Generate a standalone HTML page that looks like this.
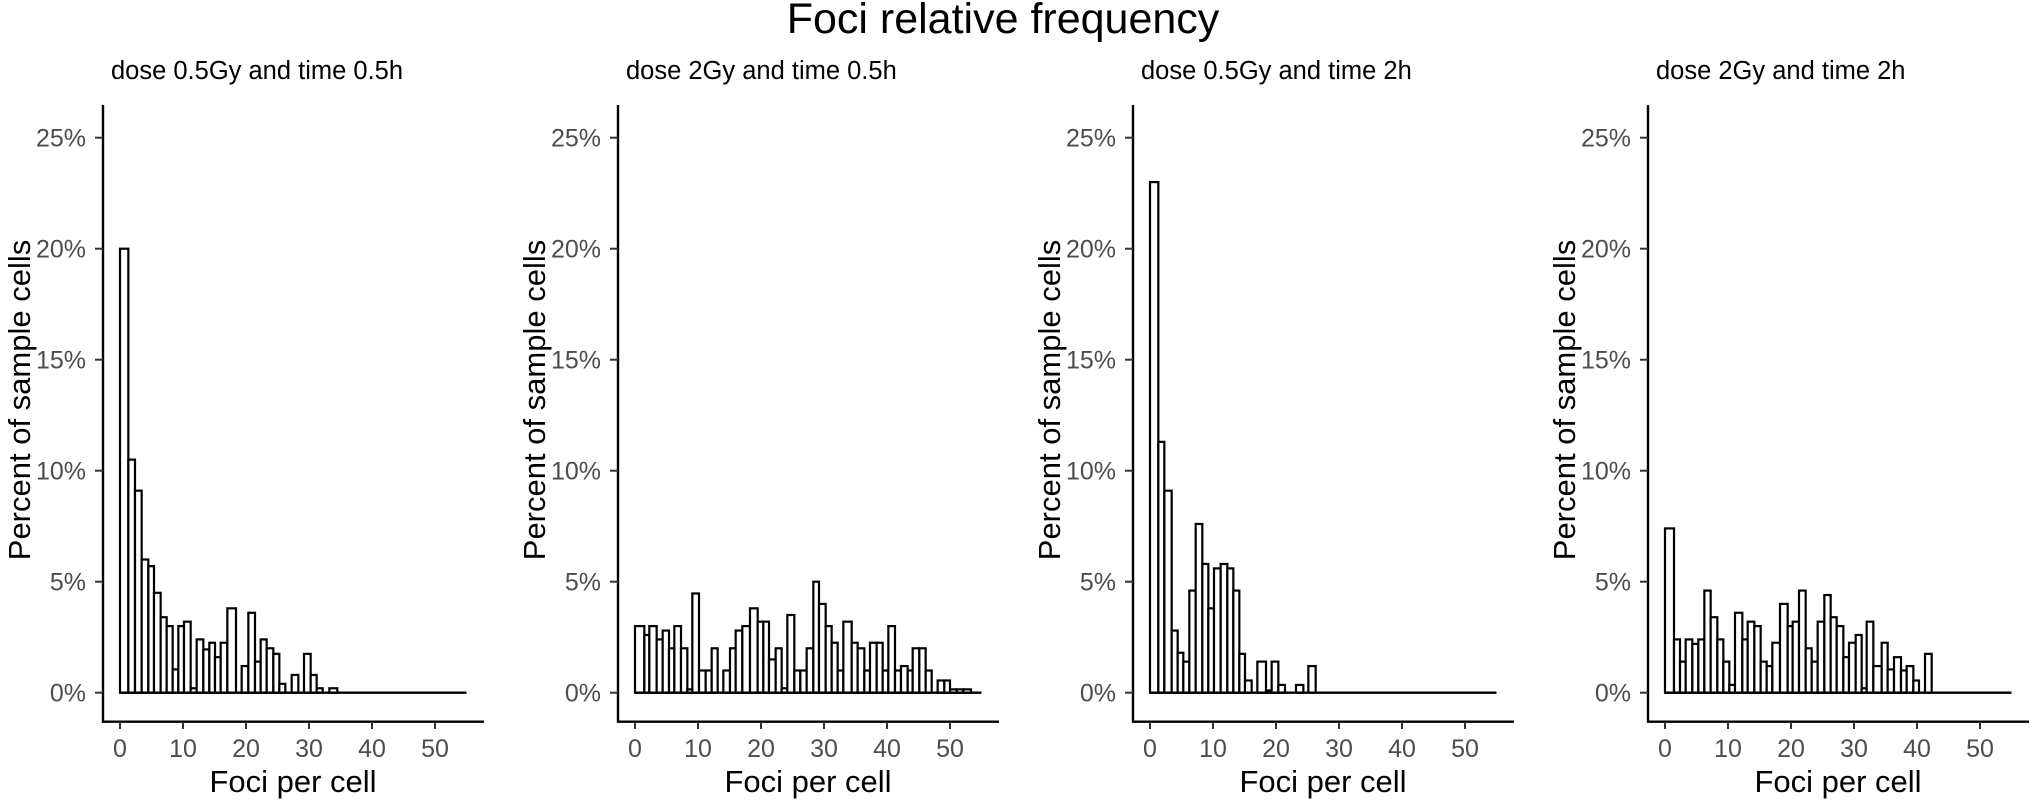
<!DOCTYPE html>
<html><head><meta charset="utf-8">
<style>
html,body{margin:0;padding:0;background:#fff;}
svg{display:block;}
text{font-family:"Liberation Sans",Arial,sans-serif;}
</style></head>
<body>
<svg id="s" width="2030" height="801" viewBox="0 0 2030 801" xmlns="http://www.w3.org/2000/svg">
<rect width="2030" height="801" fill="#fff"/>
<text x="1003" y="33" font-size="43" text-anchor="middle" fill="#000">Foci relative frequency</text>
</svg>
<script>
var svg=document.getElementById('s');
var NS="http://www.w3.org/2000/svg";
function el(t,a,txt){var e=document.createElementNS(NS,t);for(var k in a)e.setAttribute(k,a[k]);if(txt!==undefined)e.textContent=txt;svg.appendChild(e);return e;}
var titles=["dose 0.5Gy and time 0.5h","dose 2Gy and time 0.5h","dose 0.5Gy and time 2h","dose 2Gy and time 2h"];
var data=[
[[60,85,20],[85,105,10.5],[105,125,9.1],[125,145,6.0],[145,162,5.7],[162,182,4.5],[182,200,3.4],[200,218,3.0],[218,235,1.05],[235,252,3.0],[252,272,3.2],[272,290,0.2],[290,310,2.4],[310,328,1.95],[328,345,2.25],[345,362,1.6],[362,382,2.25],[382,408,3.8],[408,425,0],[425,445,1.2],[445,465,3.6],[465,482,1.4],[482,500,2.4],[500,520,2.0],[520,538,1.75],[538,556,0.4],[556,575,0],[575,595,0.8],[595,612,0],[612,632,1.75],[632,650,0.8],[650,668,0.2],[668,688,0],[688,712,0.2]],
[[60,88,3.0],[88,103,2.6],[103,125,3.0],[125,143,2.4],[143,162,2.8],[162,178,2.0],[178,198,3.0],[198,217,2.0],[217,232,0.15],[232,252,4.47],[252,272,1.0],[272,290,1.0],[290,308,2.0],[308,325,0],[325,345,1.0],[345,362,2.0],[362,382,2.8],[382,405,3.0],[405,428,3.8],[428,445,3.2],[445,462,3.2],[462,482,1.5],[482,500,2.0],[500,517,0.2],[517,538,3.5],[538,556,1.0],[556,575,1.0],[575,595,2.0],[595,612,5.0],[612,632,4.0],[632,650,3.0],[650,668,2.25],[668,685,1.0],[685,710,3.2],[710,728,2.25],[728,748,2.0],[748,765,1.0],[765,785,2.25],[785,803,2.25],[803,820,1.0],[820,840,3.0],[840,858,1.0],[858,878,1.2],[878,893,1.0],[893,913,2.0],[913,932,2.0],[932,950,1.0],[950,968,0],[968,988,0.55],[988,1005,0.55],[1005,1025,0.15],[1025,1045,0.15],[1045,1068,0.15]],
[[60,85,23],[85,103,11.3],[103,125,9.1],[125,143,2.8],[143,160,1.8],[160,178,1.4],[178,197,4.6],[197,217,7.6],[217,235,5.8],[235,252,3.8],[252,272,5.6],[272,292,5.8],[292,310,5.6],[310,328,4.6],[328,345,1.75],[345,365,0.55],[365,382,0],[382,408,1.4],[408,425,0.1],[425,445,1.4],[445,465,0.35],[465,498,0],[498,520,0.35],[520,535,0],[535,557,1.2]],
[[60,87,7.4],[87,105,2.4],[105,122,1.4],[122,142,2.4],[142,160,2.2],[160,178,2.4],[178,197,4.6],[197,217,3.4],[217,235,2.4],[235,253,1.4],[253,270,0.35],[270,292,3.6],[292,308,2.4],[308,328,3.2],[328,347,3.0],[347,365,1.4],[365,382,1.2],[382,405,2.25],[405,428,4.0],[428,443,3.0],[443,462,3.2],[462,482,4.6],[482,500,2.0],[500,518,1.4],[518,538,3.2],[538,557,4.4],[557,575,3.4],[575,595,3.0],[595,612,1.6],[612,632,2.25],[632,650,2.6],[650,665,0.2],[665,685,3.2],[685,710,1.2],[710,728,2.25],[728,747,1.05],[747,768,1.6],[768,785,1.0],[785,805,1.2],[805,822,0.55],[822,840,0],[840,860,1.75]]
];
var base=692.7, pp=22.2, ux=6.3;
for(var p=0;p<4;p++){
  var off=p*515, ax=103+off, x0=120+off;
  el('text',{x:ax+8,y:79,'font-size':25.5,'text-anchor':'start',fill:'#000'},titles[p]);
  var bars=data[p];
  for(var i=0;i<bars.length;i++){
    var b=bars[i],xa=100+off+b[0]/3,xb=100+off+b[1]/3,h=b[2]*pp;
    el('rect',{x:xa,y:base-h,width:xb-xa,height:h,fill:'#fff',stroke:'#000','stroke-width':2.2});
  }
  el('line',{x1:x0,y1:base,x2:x0+55*ux,y2:base,stroke:'#000','stroke-width':2.4});
  el('line',{x1:ax,y1:105,x2:ax,y2:722.5,stroke:'#000','stroke-width':2.4});
  el('line',{x1:ax-1,y1:721.7,x2:ax+381,y2:721.7,stroke:'#000','stroke-width':2.4});
  for(var k=0;k<=5;k++){
    var y=base-k*5*pp;
    el('line',{x1:ax-8,y1:y,x2:ax,y2:y,stroke:'#333','stroke-width':2});
    el('text',{x:ax-17,y:y+9,'font-size':25,'text-anchor':'end',fill:'#4d4d4d'},(k*5)+'%');
    var x=x0+k*10*ux;
    el('line',{x1:x,y1:722,x2:x,y2:729,stroke:'#333','stroke-width':2});
    el('text',{x:x,y:757,'font-size':25,'text-anchor':'middle',fill:'#4d4d4d'},String(k*10));
  }
  el('text',{x:293+off,y:792,'font-size':31,'text-anchor':'middle',fill:'#000'},'Foci per cell');
  el('text',{x:0,y:0,'font-size':31,'text-anchor':'middle',fill:'#000',transform:'translate('+(30+off)+',400) rotate(-90)'},'Percent of sample cells');
}
</script>
</body></html>
